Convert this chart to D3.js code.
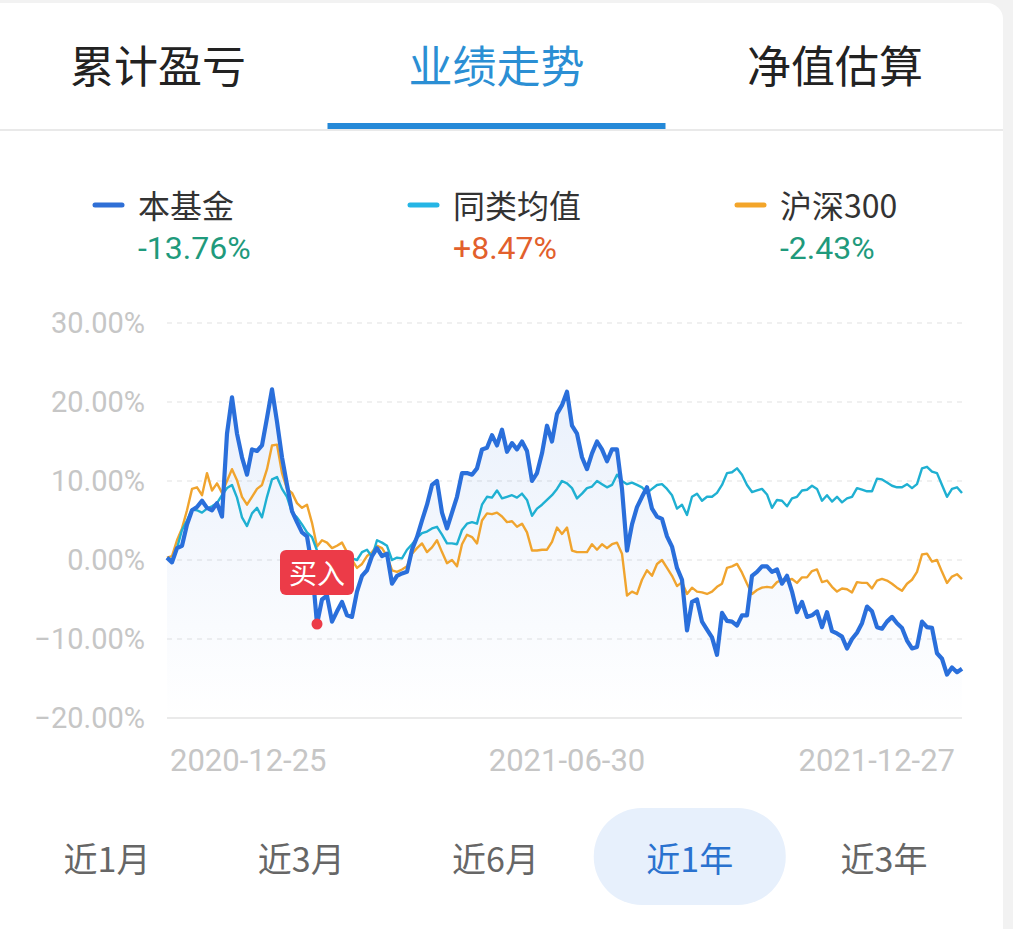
<!DOCTYPE html>
<html><head><meta charset="utf-8">
<script src="https://cdn.jsdelivr.net/npm/d3@7/dist/d3.min.js"></script>
<style>
html,body{margin:0;padding:0;background:#f2f2f2;}
svg{display:block;}
text{font-family:"Noto Sans CJK SC","Noto Sans",sans-serif;}
.num{font-family:Roboto,"Noto Sans CJK SC",sans-serif;}
</style></head>
<body>
<svg id="c" width="1013" height="929"></svg>
<script>
// ---------------- data ----------------
const tabs = ["累计盈亏","业绩走势","净值估算"];
const activeTab = 1;
const seriesNames = ["本基金","同类均值","沪深300"];
const seriesReturns = ["-13.76%","+8.47%","-2.43%"];
const yTicks = [30,20,10,0,-10,-20];
const dateLabels = ["2020-12-25","2021-06-30","2021-12-27"];
const dateLabelIndex = [0,80,159];
const periods = ["近1月","近3月","近6月","近1年","近3年"];
const activePeriod = 3;
const buyIndex = 30;
const buyLabel = "买入";

const fund = [
 0.3,-0.3,1.5,1.8,4.5,6.3,6.7,7.5,6.6,6.3,
 7.2,5.5,16,20.6,16,13,10.8,14,13.8,14.5,
 18,21.6,17.5,13,9.5,6.2,4.8,3.5,3,-0.8,
 -8.1,-5,-4.5,-7.8,-6.5,-5.3,-7,-7.2,-4,-2,
 -1.3,0.5,1.5,0.5,0.8,-3,-2,-1.7,-1.5,1.3,
 2.9,5,7,9.5,10,6,4,6,8,11,
 11,10.8,11.6,14,14.2,15.8,14.5,16.5,13.7,14.8,
 14,15,13.8,10,11,13.5,17,15,18.5,19.6,
 21.3,17,16,13,11.5,13.5,15,14,12.5,14,
 14,9,1.2,4.5,6.7,8,9.2,6.5,5.5,5.2,
 3,1.7,-1,-2.5,-8.9,-5.3,-5,-7.8,-8.8,-9.8,
 -12,-6.7,-7.7,-7.8,-8.3,-7,-7,-2,-1.5,-0.8,
 -0.8,-1.5,-1.2,-3,-2,-4,-6.6,-5.3,-7.2,-7,
 -6.5,-8.5,-6.6,-9,-9.3,-9.7,-11.2,-10,-9.2,-8,
 -5.9,-6.5,-8.5,-8.7,-7.8,-7.2,-8,-8.6,-10.2,-11.2,
 -11,-7.8,-8.5,-8.6,-11.8,-12.5,-14.5,-13.6,-14.2,-13.76
];
const peerAvg = [
 0.2,0,1.5,3.8,5,6.4,6.3,6,6.5,6.8,
 7.2,8.2,9.1,9.5,7.9,5.4,4.3,5.9,6.6,5.4,
 8,10.2,10.5,9,8,6,5.4,4.5,3.5,2.9,
 1.2,0.5,0,-0.5,0,0.5,-0.3,0.2,0,1,
 1.3,0.4,2.5,2.2,1.8,0,0.3,0.2,1.3,2,
 2.8,3.4,3.6,4,4.2,3.2,2.1,2.1,2,3.8,
 4.6,4.8,4.6,7,8,7.9,8.8,7.8,8,8.2,
 7.9,8.4,7.6,5.6,6.5,7,7.6,8.2,9,10,
 9.7,9.1,7.8,8.4,9.1,9.3,10,9.6,9.2,9.5,
 10.8,10,9.6,9.8,9.5,9.2,8.5,9,9.5,9.6,
 9,8.2,6.5,7,5.7,8,8.4,7.5,8,8,
 8.5,9.5,11,11.1,11.6,10.8,9.5,8.6,8.8,9,
 8.3,6.6,7.6,7.5,6.8,7.8,8,8.8,8.9,9.4,
 9,7.5,8.2,7.4,8,7.3,7.8,8,9.1,8.9,
 8.7,8.7,10.3,10.2,9.8,9.4,9.2,9.2,9.6,9.1,
 9.6,11.6,11.8,11.2,11,9.5,8,9,9.2,8.47
];
const hs300 = [
 0.3,0.5,2.5,4,6.3,9,9.2,8.2,11,8.8,
 9.7,8.5,10,11.5,10.1,8,7,8,9,9.5,
 11.5,14.5,14.6,11,9,8.5,7.2,6.6,7,4.7,
 1.7,2.5,2.2,1.5,1.8,2.2,1,0,-1,-0.5,
 0.5,1,1.8,1.5,0.5,-1.3,-1.5,-1.2,-0.8,0.8,
 1.5,2.1,1,1.6,2.5,1,-0.4,0,-0.8,2,
 3.2,2.9,2.1,5,5.9,5.8,6,5.5,4.8,4.9,
 4.2,4.6,3.5,1.2,1.2,1.3,1.3,2.3,4.1,3.3,
 4.1,1.2,1,1,1,2,1.3,2,1.5,2,
 2.2,0.8,-4.5,-4,-4.3,-2.5,-1.3,-2,-0.5,0,
 -1,-2,-3.3,-2.8,-4.3,-3.5,-4,-4.1,-4.3,-4,
 -3.4,-3,-1,-0.8,-0.5,-1.6,-3,-4.3,-3.8,-3.5,
 -3.4,-3.5,-2.8,-2.5,-2.6,-2.4,-2.9,-2.2,-2.2,-1.4,
 -1.2,-2.8,-2.6,-3.4,-4,-3.6,-3.7,-4.1,-2.8,-2.9,
 -2.9,-3.6,-2.6,-2.4,-2.6,-3,-3.5,-3.9,-3,-2.5,
 -1.5,0.7,0.8,-0.2,0,-1.5,-2.9,-2.1,-1.8,-2.43
];

// ---------------- styles ----------------
const lineColors = ["#2a6fdb","#1fb0d2","#f0a42e"];
const legendColors = ["#2f6fd6","#25b5e5","#f3a52a"];
const returnColors = ["#1f9a7c","#e2602c","#1f9a7c"];

// ---------------- drawing ----------------
const svg = d3.select("#c");
const W = 1013, H = 929;

// card
svg.append("rect").attr("x",-20).attr("y",3).attr("width",1023).attr("height",H+20)
  .attr("rx",16).attr("fill","#ffffff");

// tabs
const tabX = d3.scalePoint().domain(tabs).range([158,835]);
svg.selectAll("text.tab").data(tabs).join("text").attr("class","tab")
  .attr("x",d=>tabX(d)).attr("y",64).attr("text-anchor","middle")
  .attr("dominant-baseline","central").attr("font-size",44)
  .attr("fill",(d,i)=>i===activeTab?"#2b8fd4":"#222").text(d=>d);
svg.append("line").attr("x1",0).attr("x2",1003).attr("y1",130).attr("y2",130)
  .attr("stroke","#e2e2e2").attr("stroke-width",1.5);
svg.append("rect").attr("x",tabX(tabs[activeTab])-169).attr("y",123).attr("width",338).attr("height",6)
  .attr("fill","#2589d8");

// legend
const legX = [95,410,737];
const leg = svg.selectAll("g.leg").data(seriesNames).join("g").attr("class","leg")
  .attr("transform",(d,i)=>`translate(${legX[i]},0)`);
leg.append("line").attr("x1",0).attr("x2",27).attr("y1",205).attr("y2",205)
  .attr("stroke",(d,i)=>legendColors[i]).attr("stroke-width",5).attr("stroke-linecap","round");
leg.append("text").attr("x",43).attr("y",204).attr("dominant-baseline","central")
  .attr("font-size",32).attr("fill","#333").text(d=>d);
leg.append("text").attr("class","num").attr("x",43).attr("y",248).attr("dominant-baseline","central")
  .attr("font-size",32).attr("fill",(d,i)=>returnColors[i]).text((d,i)=>seriesReturns[i]);

// scales
const x0 = 167, x1 = 962;
const x = d3.scaleLinear().domain([0,fund.length-1]).range([x0,x1]);
const y = d3.scaleLinear().domain([-20,30]).range([718,323]);

// grid
svg.selectAll("line.grid").data(yTicks).join("line").attr("class","grid")
  .attr("x1",x0).attr("x2",x1).attr("y1",d=>y(d)).attr("y2",d=>y(d))
  .attr("stroke",d=>d===-20?"#e3e3e3":"#ececec").attr("stroke-width",1.5)
  .attr("stroke-dasharray",d=>d===-20?null:"5,5");
svg.selectAll("text.yl").data(yTicks).join("text").attr("class","yl num")
  .attr("x",145).attr("y",d=>y(d)).attr("text-anchor","end").attr("dominant-baseline","central")
  .attr("font-size",29).attr("fill","#c6c6c6").text(d=>d3.format(".2f")(d)+"%");

// x labels
svg.selectAll("text.xl").data(dateLabels).join("text").attr("class","xl num")
  .attr("x",(d,i)=>i===0?x(dateLabelIndex[i])+3:(i===dateLabels.length-1?x(dateLabelIndex[i])-7:x(dateLabelIndex[i])))
  .attr("y",760).attr("dominant-baseline","central")
  .attr("text-anchor",(d,i)=>i===0?"start":(i===dateLabels.length-1?"end":"middle"))
  .attr("font-size",31).attr("fill","#c6c6c6").text(d=>d);

// area gradient
const defs = svg.append("defs");
const grad = defs.append("linearGradient").attr("id","ag")
  .attr("gradientUnits","userSpaceOnUse").attr("x1",0).attr("x2",0).attr("y1",y(22)).attr("y2",y(-20));
grad.append("stop").attr("offset",0).attr("stop-color","#3b7be0").attr("stop-opacity",0.11);
grad.append("stop").attr("offset",1).attr("stop-color","#3b7be0").attr("stop-opacity",0.0);

const area = d3.area().x((d,i)=>x(i)).y0(y(-20)).y1(d=>y(d)).curve(d3.curveLinear);
svg.append("path").datum(fund).attr("d",area).attr("fill","url(#ag)");

const line = d3.line().x((d,i)=>x(i)).y(d=>y(d)).curve(d3.curveLinear);
svg.append("path").datum(hs300).attr("d",line).attr("fill","none")
  .attr("stroke",lineColors[2]).attr("stroke-width",2.4).attr("stroke-linejoin","round");
svg.append("path").datum(peerAvg).attr("d",line).attr("fill","none")
  .attr("stroke",lineColors[1]).attr("stroke-width",2.4).attr("stroke-linejoin","round");
svg.append("path").datum(fund).attr("d",line).attr("fill","none")
  .attr("stroke",lineColors[0]).attr("stroke-width",4.2).attr("stroke-linejoin","round");

// buy marker
const bx = x(buyIndex), by = y(fund[buyIndex]);
svg.append("circle").attr("cx",bx).attr("cy",by).attr("r",5.5).attr("fill","#ec3b48");
svg.append("rect").attr("x",bx-37).attr("y",by-74).attr("width",74).attr("height",45).attr("rx",6)
  .attr("fill","#ec3b48");
svg.append("text").attr("x",bx).attr("y",by-52).attr("text-anchor","middle").attr("dominant-baseline","central")
  .attr("font-size",28).attr("fill","#fff").text(buyLabel);

// period buttons
const px = d3.scalePoint().domain(periods).range([107,884]);
svg.append("rect").attr("x",px(periods[activePeriod])-96).attr("y",808).attr("width",192).attr("height",97)
  .attr("rx",48).attr("fill","#e7f0fc");
svg.selectAll("text.pd").data(periods).join("text").attr("class","pd")
  .attr("x",d=>px(d)).attr("y",857).attr("text-anchor","middle").attr("dominant-baseline","central")
  .attr("font-size",34).attr("fill",(d,i)=>i===activePeriod?"#2a72cf":"#666").text(d=>d);
</script>
</body></html>
